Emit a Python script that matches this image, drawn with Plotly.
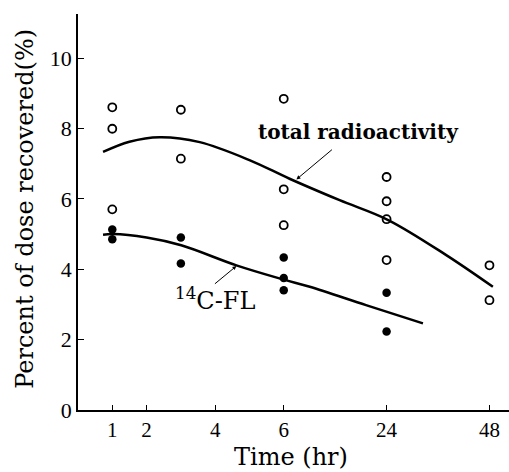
import plotly.graph_objects as go

# ---- data ----
tick_hours = [1, 2, 4, 6, 24, 48]
tick_labels = ["1", "2", "4", "6", "24", "48"]
y_ticks = [0, 2, 4, 6, 8, 10]

# broken time scale: hours 0-6 linear, then 24 and 48 at equal steps
def axis_pos(h):
    table = {24: 9.0, 48: 12.0}
    return table.get(h, h)

total_hours = [1, 1, 1, 3, 3, 6, 6, 6, 24, 24, 24, 24, 48, 48]
total_values = [8.60, 7.99, 5.70, 8.53, 7.14, 8.84, 6.27, 5.25, 6.62, 5.93, 5.42, 4.26, 4.11, 3.12]

fl_hours = [1, 1, 3, 3, 6, 6, 6, 24, 24]
fl_values = [5.13, 4.85, 4.90, 4.16, 4.33, 3.75, 3.40, 3.33, 2.23]

# smooth fitted curves (axis positions, %)
total_curve_x = [0.73, 1.5, 2.38, 3.55, 5.0, 6.17, 7.63, 9.06, 10.74, 12.1]
total_curve_y = [7.33, 7.62, 7.75, 7.61, 7.10, 6.57, 5.96, 5.39, 4.40, 3.50]

fl_curve_x = [0.73, 1.02, 2.0, 3.01, 4.62, 5.98, 6.76, 8.4, 10.06]
fl_curve_y = [4.98, 5.00, 4.90, 4.68, 4.11, 3.71, 3.50, 2.98, 2.46]

SERIF = "DejaVu Serif"

fig = go.Figure()

fig.add_trace(go.Scatter(
    x=total_curve_x, y=total_curve_y, mode="lines",
    line=dict(color="black", width=2.5, shape="spline", smoothing=1.0),
    hoverinfo="skip", showlegend=False))
fig.add_trace(go.Scatter(
    x=fl_curve_x, y=fl_curve_y, mode="lines",
    line=dict(color="black", width=2.5, shape="spline", smoothing=1.0),
    hoverinfo="skip", showlegend=False))

fig.add_trace(go.Scatter(
    x=[axis_pos(h) for h in total_hours], y=total_values, mode="markers",
    marker=dict(symbol="circle-open", size=8, color="black", line=dict(width=1.8)),
    showlegend=False))
fig.add_trace(go.Scatter(
    x=[axis_pos(h) for h in fl_hours], y=fl_values, mode="markers",
    marker=dict(symbol="circle", size=8.5, color="black"),
    showlegend=False))

ann = [
    dict(x=6.37, y=6.55, xref="x", yref="y", ax=37, ay=-31, showarrow=True,
         arrowhead=2, arrowsize=0.8, arrowwidth=1, arrowcolor="black", text=""),
    dict(x=4.62, y=4.09, xref="x", yref="y", ax=-23, ay=19, showarrow=True,
         arrowhead=2, arrowsize=0.8, arrowwidth=1, arrowcolor="black", text=""),
    dict(x=8.18, y=7.90, xref="x", yref="y", showarrow=False,
         text="<b>total radioactivity</b>",
         font=dict(family=SERIF, size=20, color="black")),
    dict(x=3.99, y=3.15, xref="x", yref="y", showarrow=False,
         text="<sup>14</sup>C-FL",
         font=dict(family=SERIF, size=24, color="black")),
    dict(x=-0.123, y=0.508, xref="paper", yref="paper", showarrow=False,
         textangle=-90, xanchor="center", yanchor="middle",
         text="Percent of dose recovered(%)",
         font=dict(family=SERIF, size=24, color="black")),
    dict(x=0.495, y=-0.119, xref="paper", yref="paper", showarrow=False,
         xanchor="center", yanchor="middle",
         text="Time (hr)",
         font=dict(family=SERIF, size=24, color="black")),
]

fig.update_layout(
    width=509, height=472,
    margin=dict(l=78, r=0, t=14, b=62),
    plot_bgcolor="white", paper_bgcolor="white",
    annotations=ann,
    font=dict(family="Liberation Serif", size=22, color="black"),
)
fig.update_xaxes(
    range=[0, 12.57], showline=True, linecolor="black", linewidth=1.5,
    tickvals=[axis_pos(h) for h in tick_hours], ticktext=tick_labels,
    ticks="inside", ticklen=5, tickcolor="black", tickwidth=1,
    showgrid=False, zeroline=False,
    tickfont=dict(family="Liberation Serif", size=21, color="black"))
fig.update_yaxes(
    range=[0, 11.25], showline=True, linecolor="black", linewidth=1.5,
    tickvals=y_ticks, ticks="inside", ticklen=6, tickcolor="black",
    tickwidth=1, showgrid=False, zeroline=False,
    tickfont=dict(family="Liberation Serif", size=22, color="black"))

fig.write_html("out.html", config={"displayModeBar": False},
               post_script="document.body.style.margin='0';")
